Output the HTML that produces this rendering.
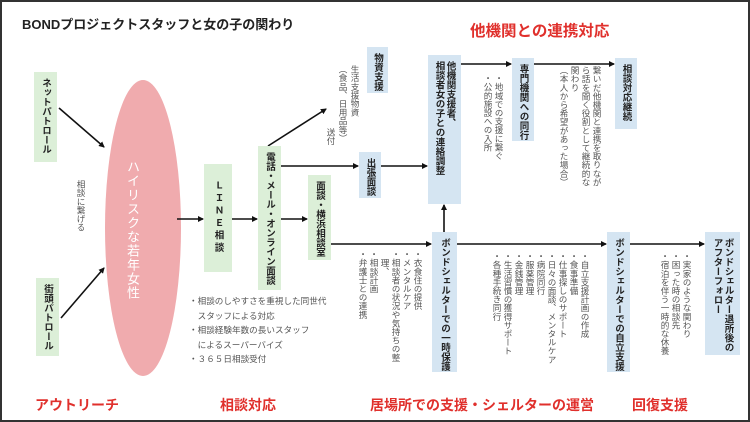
<!DOCTYPE html>
<html><head><meta charset="utf-8"><style>
*{margin:0;padding:0;box-sizing:border-box}
body{width:750px;height:422px;background:#fff;position:relative;overflow:hidden;font-family:"Liberation Sans","Noto Sans CJK JP",sans-serif}
.frame{position:absolute;left:0;top:0;width:750px;height:422px;border:2px solid #333}
.b{position:absolute;writing-mode:vertical-rl;font-weight:bold;font-size:9.5px;line-height:11px;color:#222;padding-top:6px;display:flex;align-items:center;justify-content:flex-start}
.b span{display:block}
.g{background:#dcefd8}
.u{background:#d5e5f2}
.t{position:absolute;writing-mode:vertical-rl;font-size:8.6px;line-height:11px;color:#555;white-space:nowrap}
.r{position:absolute;color:#e0302c;font-weight:bold;font-size:14px;white-space:nowrap}
svg{position:absolute;left:0;top:0}
</style></head><body>
<div class="frame"></div>
<div style="position:absolute;left:22px;top:14px;font-size:13px;font-weight:bold;color:#222">BONDプロジェクトスタッフと女の子の関わり</div>
<div class="r" style="left:470px;top:19px;font-size:15.5px">他機関との連携対応</div>
<div class="r" style="left:35px;top:395px">アウトリーチ</div>
<div class="r" style="left:220px;top:395px">相談対応</div>
<div class="r" style="left:370px;top:395px">居場所での支援・シェルターの運営</div>
<div class="r" style="left:632px;top:395px">回復支援</div>

<svg width="750" height="422" viewBox="0 0 750 422">
<defs><marker id="a" markerWidth="6" markerHeight="6" refX="5" refY="3" orient="auto" markerUnits="userSpaceOnUse"><path d="M0,0 L6,3 L0,6z" fill="#111"/></marker></defs>
<ellipse cx="143" cy="228" rx="38" ry="148" fill="#f0abae"/>
<g stroke="#111" stroke-width="1.6" fill="none" marker-end="url(#a)">
<line x1="59" y1="108" x2="104" y2="147"/>
<line x1="61" y1="318" x2="104" y2="268"/>
<line x1="177" y1="219" x2="203" y2="219"/>
<line x1="232" y1="219" x2="257" y2="219"/>
<line x1="281" y1="219" x2="307" y2="219"/>
<line x1="268" y1="146" x2="326" y2="109"/>
<line x1="281" y1="166" x2="358" y2="166"/>
<line x1="381" y1="166" x2="427" y2="166"/>
<line x1="461" y1="64" x2="511" y2="64"/>
<line x1="534" y1="64" x2="614" y2="64"/>
<polyline points="331,244 431,244"/>
<line x1="444" y1="232" x2="444" y2="205"/>
<line x1="457" y1="244" x2="606" y2="244"/>
<line x1="630" y1="244" x2="704" y2="244"/>
</g>
</svg>

<div style="position:absolute;left:124px;top:160px;writing-mode:vertical-rl;color:#fff;font-size:13px;line-height:16px;letter-spacing:1px">ハイリスクな若年女性</div>

<div class="b g" style="left:34px;top:72px;width:23px;height:90px"><span>ネットパトロール</span></div>
<div class="b g" style="left:36px;top:278px;width:23px;height:78px"><span>街頭パトロール</span></div>
<div class="t" style="left:75px;top:180px">相談に繋げる</div>
<div class="b g" style="left:204px;top:164px;width:28px;height:108px;padding-top:16px;letter-spacing:3px"><span>ＬＩＮＥ相談</span></div>
<div class="b g" style="left:258px;top:146px;width:23px;height:144px"><span>電話・メール・オンライン面談</span></div>
<div class="b g" style="left:308px;top:175px;width:23px;height:85px"><span>面談・横浜相談室</span></div>
<div class="b u" style="left:367px;top:47px;width:21px;height:46px"><span>物資支援</span></div>
<div class="b u" style="left:359px;top:152px;width:22px;height:46px"><span>出張面談</span></div>
<div class="b u" style="left:428px;top:55px;width:33px;height:149px"><span>他機関支援者、<br>相談者女の子との連絡調整</span></div>
<div class="b u" style="left:512px;top:58px;width:22px;height:83px"><span>専門機関への同行</span></div>
<div class="b u" style="left:615px;top:58px;width:22px;height:71px"><span>相談対応継続</span></div>
<div class="b u" style="left:432px;top:232px;width:25px;height:140px"><span>ボンドシェルターでの一時保護</span></div>
<div class="b u" style="left:607px;top:232px;width:23px;height:140px"><span>ボンドシェルターでの自立支援</span></div>
<div class="b u" style="left:705px;top:232px;width:35px;height:123px"><span>ボンドシェルター退所後の<br>アフターフォロー</span></div>

<div class="t" style="left:349px;top:65px">生活支援物資</div>
<div class="t" style="left:337px;top:65px">（食品、日用品等）</div>
<div class="t" style="left:325px;top:128px">送付</div>
<div class="t" style="left:482px;top:74px">・地域での支援に繋ぐ<br>・公的施設への入所</div>
<div class="t" style="left:558px;top:66px">繋いだ他機関と連携を取りなが<br>ら話を聞く役割として継続的な<br>関わり<br>（本人から希望があった場合）</div>
<div class="t" style="left:357px;top:250px">・衣食住の提供<br>・メンタルケア<br>・相談者の状況や気持ちの整<br>　理、<br>・相談計画<br>・弁護士との連携</div>
<div class="t" style="left:491px;top:252px">・自立支援計画の作成<br>・食事準備<br>・仕事探しのサポート<br>・日々の面談、メンタルケア<br>・病院同行<br>・服薬管理<br>・金銭管理<br>・生活習慣の獲得サポート<br>・各種手続き同行</div>
<div class="t" style="left:659px;top:252px">・実家のような関わり<br>・困った時の相談先<br>・宿泊を伴う一時的な休養</div>

<div style="position:absolute;left:189px;top:294px;font-size:8.6px;line-height:14.5px;color:#555;white-space:nowrap">・相談のしやすさを重視した同世代<br>　スタッフによる対応<br>・相談経験年数の長いスタッフ<br>　によるスーパーバイズ<br>・３６５日相談受付</div>
</body></html>
